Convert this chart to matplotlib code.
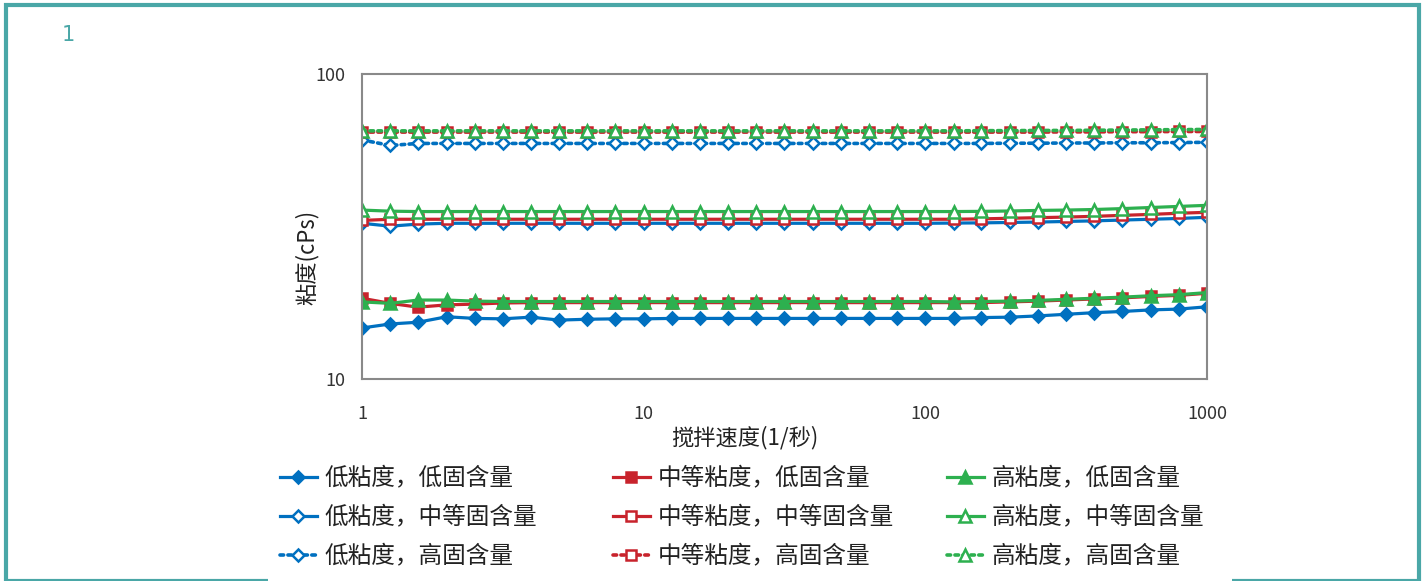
import matplotlib.pyplot as plt
from matplotlib.patches import Rectangle

plt.rcParams['font.family'] = ['Noto Sans CJK SC', 'DejaVu Sans']

# 搅拌速度 (1/秒)
shear_rate = [1, 1.26, 1.58, 2, 2.51, 3.16, 3.98, 5.01, 6.31, 7.94,
              10, 12.6, 15.8, 20, 25.1, 31.6, 39.8, 50.1, 63.1, 79.4,
              100, 126, 158, 200, 251, 316, 398, 501, 631, 794, 1000]

# 粘度 (cPs), 读自原图
low_visc_low_solid = [14.7, 15.15, 15.35, 16.0, 15.8, 15.75, 15.95, 15.6, 15.7, 15.75,
                      15.75, 15.8, 15.8, 15.8, 15.8, 15.8, 15.8, 15.8, 15.8, 15.8,
                      15.8, 15.8, 15.9, 15.95, 16.1, 16.3, 16.5, 16.65, 16.85, 16.95, 17.25]
low_visc_mid_solid = [32.4, 31.7, 32.2, 32.4, 32.4, 32.4, 32.4, 32.4, 32.4, 32.4,
                      32.4, 32.4, 32.4, 32.4, 32.4, 32.4, 32.4, 32.4, 32.4, 32.4,
                      32.4, 32.45, 32.5, 32.6, 32.7, 32.85, 33.0, 33.2, 33.4, 33.6, 33.9]
low_visc_high_solid = [60.8, 58.3, 59.2, 59.2, 59.2, 59.2, 59.2, 59.2, 59.2, 59.2,
                       59.2, 59.2, 59.2, 59.2, 59.2, 59.2, 59.2, 59.2, 59.2, 59.2,
                       59.2, 59.2, 59.2, 59.3, 59.3, 59.4, 59.4, 59.5, 59.5, 59.6, 59.7]

mid_visc_low_solid = [18.4, 17.7, 17.2, 17.5, 17.6, 17.75, 17.8, 17.8, 17.8, 17.8,
                      17.8, 17.8, 17.8, 17.8, 17.8, 17.8, 17.8, 17.8, 17.8, 17.8,
                      17.8, 17.8, 17.8, 17.9, 18.0, 18.15, 18.3, 18.45, 18.65, 18.8, 19.1]
mid_visc_mid_solid = [33.1, 33.4, 33.4, 33.4, 33.4, 33.4, 33.4, 33.4, 33.4, 33.4,
                      33.4, 33.4, 33.4, 33.4, 33.4, 33.4, 33.4, 33.4, 33.4, 33.4,
                      33.4, 33.4, 33.5, 33.65, 33.8, 33.95, 34.15, 34.4, 34.65, 34.95, 35.2]
mid_visc_high_solid = [64.5, 64.5, 64.5, 64.5, 64.5, 64.5, 64.5, 64.5, 64.5, 64.5,
                       64.5, 64.5, 64.5, 64.5, 64.5, 64.5, 64.5, 64.5, 64.5, 64.5,
                       64.5, 64.5, 64.5, 64.5, 64.5, 64.6, 64.6, 64.7, 64.7, 64.8, 64.8]

high_visc_low_solid = [17.9, 17.7, 18.15, 18.15, 18.0, 17.95, 17.95, 17.95, 17.95, 17.95,
                       17.95, 17.95, 17.95, 17.95, 17.95, 17.95, 17.95, 17.95, 17.95, 17.95,
                       17.95, 17.9, 17.95, 18.0, 18.1, 18.25, 18.4, 18.55, 18.75, 18.9, 19.2]
high_visc_mid_solid = [35.8, 35.5, 35.4, 35.4, 35.4, 35.4, 35.4, 35.4, 35.4, 35.4,
                       35.4, 35.4, 35.4, 35.4, 35.4, 35.4, 35.4, 35.4, 35.4, 35.4,
                       35.4, 35.4, 35.45, 35.55, 35.7, 35.8, 35.95, 36.2, 36.5, 36.8, 37.1]
high_visc_high_solid = [65.1, 65.1, 65.1, 65.1, 65.1, 65.1, 65.1, 65.1, 65.1, 65.1,
                        65.1, 65.1, 65.1, 65.1, 65.1, 65.1, 65.1, 65.1, 65.1, 65.1,
                        65.1, 65.1, 65.2, 65.2, 65.3, 65.3, 65.4, 65.5, 65.6, 65.7, 65.8]

labels = ['低粘度，低固含量', '低粘度，中等固含量', '低粘度，高固含量',
          '中等粘度，低固含量', '中等粘度，中等固含量', '中等粘度，高固含量',
          '高粘度，低固含量', '高粘度，中等固含量', '高粘度，高固含量']
series = [low_visc_low_solid, low_visc_mid_solid, low_visc_high_solid,
          mid_visc_low_solid, mid_visc_mid_solid, mid_visc_high_solid,
          high_visc_low_solid, high_visc_mid_solid, high_visc_high_solid]

blue, red, green = '#0070C0', '#C8232C', '#2DB04F'
teal = '#4AA7A7'
colors = [blue] * 3 + [red] * 3 + [green] * 3
markers = ['D'] * 3 + ['s'] * 3 + ['^'] * 3
msizes = [6.5] * 3 + [7.0] * 3 + [8.0] * 3
filled = [True, False, False] * 3
dotted = (0, (1, 1.2))
styles = ['-', '-', dotted] * 3

W, H = 1426, 581
fig = plt.figure(figsize=(W / 100, H / 100), dpi=100)

# 外框
fig.patches.append(Rectangle((6 / W, 0), (1419 - 6) / W, 1 - 5 / H, transform=fig.transFigure,
                             fill=False, edgecolor=teal, linewidth=3, zorder=0))
fig.patches.append(Rectangle((268 / W, 0), (1232 - 268) / W, 12 / H, transform=fig.transFigure,
                             facecolor='white', edgecolor='none', zorder=1))
fig.text(68 / W, 1 - 35 / H, '1', color=teal, fontsize=15, ha='center', va='center',
         family='DejaVu Sans')

ax = fig.add_axes([362 / W, 1 - 379 / H, (1207 - 362) / W, (379 - 74) / H])

lines = []
for y, lab, c, m, ms, f, ls in zip(series, labels, colors, markers, msizes, filled, styles):
    lw = 2.6 if ls is dotted else 2.3
    ln, = ax.plot(shear_rate, y, color=c, lw=lw, ls=ls, marker=m, ms=ms,
                  mfc=c if f else 'white', mec=c, mew=1.8, label=lab,
                  dash_capstyle='round')
    lines.append(ln)

ax.set_xscale('log')
ax.set_yscale('log')
ax.set_xlim(1, 1000)
ax.set_ylim(10, 100)
ax.set_xticks([1, 10, 100, 1000])
ax.set_xticklabels(['1', '10', '100', '1000'])
ax.set_yticks([10, 100])
ax.set_yticklabels(['10', '100'])
ax.minorticks_off()
ax.tick_params(axis='both', length=0, labelsize=13, labelcolor='#333333')
ax.tick_params(axis='x', pad=19)
ax.tick_params(axis='y', pad=12)
for sp in ax.spines.values():
    sp.set_color('#898989')
    sp.set_linewidth(1.5)

fig.text(745 / W, 1 - 438 / H, '搅拌速度(1/秒)', fontsize=16, ha='center', va='center',
         color='#222222')
fig.text(307 / W, 1 - 257 / H, '粘度(cPs)', fontsize=16, ha='center', va='center',
         rotation=90, color='#222222')

# 图例：三列
col_x = [280, 613, 947]
for i, x0 in enumerate(col_x):
    leg = fig.legend(handles=lines[3 * i:3 * i + 3], loc='upper left',
                     bbox_to_anchor=(x0 / W, 1 - 467 / H), frameon=False,
                     fontsize=17, handlelength=1.55, handletextpad=0.35,
                     labelspacing=0.68, borderpad=0, borderaxespad=0,
                     numpoints=1)
    for t in leg.get_texts():
        t.set_color('#222222')

fig.savefig('out.png', dpi=100)
